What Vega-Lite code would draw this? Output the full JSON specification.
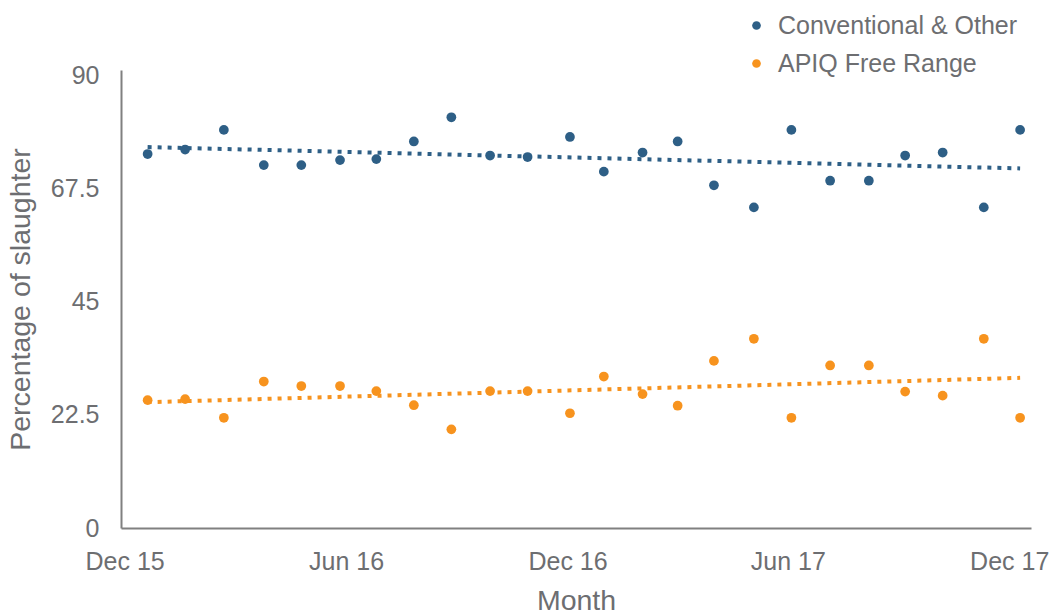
{
  "$schema": "https://vega.github.io/schema/vega-lite/v6.json",
  "width": 910,
  "height": 458,
  "autosize": {"type": "none"},
  "padding": {"left": 121, "top": 70, "right": 19, "bottom": 86},
  "background": "white",
  "config": {
    "view": {"stroke": null},
    "font": "Liberation Sans"
  },
  "data": {
    "format": {"parse": {"date": "date"}},
    "values": [
      {"date": "2015-12-20", "series": "Conventional & Other", "value": 74.3},
      {"date": "2016-01-20", "series": "Conventional & Other", "value": 75.2},
      {"date": "2016-02-21", "series": "Conventional & Other", "value": 79.1},
      {"date": "2016-03-25", "series": "Conventional & Other", "value": 72.1},
      {"date": "2016-04-25", "series": "Conventional & Other", "value": 72.1},
      {"date": "2016-05-27", "series": "Conventional & Other", "value": 73.1},
      {"date": "2016-06-26", "series": "Conventional & Other", "value": 73.3},
      {"date": "2016-07-27", "series": "Conventional & Other", "value": 76.8},
      {"date": "2016-08-27", "series": "Conventional & Other", "value": 81.6},
      {"date": "2016-09-28", "series": "Conventional & Other", "value": 74.0},
      {"date": "2016-10-29", "series": "Conventional & Other", "value": 73.7},
      {"date": "2016-12-03", "series": "Conventional & Other", "value": 77.7},
      {"date": "2016-12-31", "series": "Conventional & Other", "value": 70.8},
      {"date": "2017-02-01", "series": "Conventional & Other", "value": 74.6},
      {"date": "2017-03-02", "series": "Conventional & Other", "value": 76.8},
      {"date": "2017-04-01", "series": "Conventional & Other", "value": 68.1},
      {"date": "2017-05-04", "series": "Conventional & Other", "value": 63.7},
      {"date": "2017-06-04", "series": "Conventional & Other", "value": 79.1},
      {"date": "2017-07-06", "series": "Conventional & Other", "value": 69.0},
      {"date": "2017-08-07", "series": "Conventional & Other", "value": 69.0},
      {"date": "2017-09-06", "series": "Conventional & Other", "value": 74.0},
      {"date": "2017-10-07", "series": "Conventional & Other", "value": 74.6},
      {"date": "2017-11-10", "series": "Conventional & Other", "value": 63.7},
      {"date": "2017-12-10", "series": "Conventional & Other", "value": 79.1},
      {"date": "2015-12-20", "series": "APIQ Free Range", "value": 25.4},
      {"date": "2016-01-20", "series": "APIQ Free Range", "value": 25.6},
      {"date": "2016-02-21", "series": "APIQ Free Range", "value": 21.9},
      {"date": "2016-03-25", "series": "APIQ Free Range", "value": 29.1},
      {"date": "2016-04-25", "series": "APIQ Free Range", "value": 28.2},
      {"date": "2016-05-27", "series": "APIQ Free Range", "value": 28.2},
      {"date": "2016-06-26", "series": "APIQ Free Range", "value": 27.2},
      {"date": "2016-07-27", "series": "APIQ Free Range", "value": 24.4},
      {"date": "2016-08-27", "series": "APIQ Free Range", "value": 19.6},
      {"date": "2016-09-28", "series": "APIQ Free Range", "value": 27.2},
      {"date": "2016-10-29", "series": "APIQ Free Range", "value": 27.2},
      {"date": "2016-12-03", "series": "APIQ Free Range", "value": 22.8},
      {"date": "2016-12-31", "series": "APIQ Free Range", "value": 30.1},
      {"date": "2017-02-01", "series": "APIQ Free Range", "value": 26.6},
      {"date": "2017-03-02", "series": "APIQ Free Range", "value": 24.3},
      {"date": "2017-04-01", "series": "APIQ Free Range", "value": 33.2},
      {"date": "2017-05-04", "series": "APIQ Free Range", "value": 37.6},
      {"date": "2017-06-04", "series": "APIQ Free Range", "value": 21.9},
      {"date": "2017-07-06", "series": "APIQ Free Range", "value": 32.3},
      {"date": "2017-08-07", "series": "APIQ Free Range", "value": 32.3},
      {"date": "2017-09-06", "series": "APIQ Free Range", "value": 27.1},
      {"date": "2017-10-07", "series": "APIQ Free Range", "value": 26.3},
      {"date": "2017-11-10", "series": "APIQ Free Range", "value": 37.6},
      {"date": "2017-12-10", "series": "APIQ Free Range", "value": 21.9}
    ]
  },
  "encoding": {
    "x": {
      "field": "date",
      "type": "temporal",
      "title": "Month",
      "scale": {
        "type": "utc",
        "domain": [
          {"year": 2015, "month": 11, "date": 28, "utc": true},
          {"year": 2017, "month": 12, "date": 19, "utc": true}
        ]
      },
      "axis": {
        "values": [
          {"year": 2015, "month": 12, "date": 1, "utc": true},
          {"year": 2016, "month": 6, "date": 1, "utc": true},
          {"year": 2016, "month": 12, "date": 1, "utc": true},
          {"year": 2017, "month": 6, "date": 1, "utc": true},
          {"year": 2017, "month": 12, "date": 1, "utc": true}
        ],
        "format": "%b %y",
        "labelFlush": false,
        "labelOverlap": false,
        "grid": false,
        "ticks": false,
        "domainColor": "#808080",
        "domainWidth": 2,
        "labelFontSize": 25,
        "labelColor": "#6d6e71",
        "labelPadding": 21,
        "titleFontSize": 28.5,
        "titleFontWeight": "normal",
        "titleColor": "#6d6e71",
        "titlePadding": 12
      }
    },
    "y": {
      "field": "value",
      "type": "quantitative",
      "title": "Percentage of slaughter",
      "scale": {"domain": [0, 91], "nice": false, "zero": true},
      "axis": {
        "values": [0, 22.5, 45, 67.5, 90],
        "labelExpr": "format(datum.value, '.1~f')",
        "grid": false,
        "ticks": false,
        "domainColor": "#808080",
        "domainWidth": 2,
        "labelFontSize": 25,
        "labelColor": "#6d6e71",
        "labelPadding": 22,
        "titleFontSize": 28.5,
        "titleFontWeight": "normal",
        "titleColor": "#6d6e71",
        "titlePadding": 15
      }
    },
    "color": {
      "field": "series",
      "type": "nominal",
      "sort": ["Conventional & Other", "APIQ Free Range"],
      "scale": {
        "domain": ["Conventional & Other", "APIQ Free Range"],
        "range": ["#2e5f86", "#f7931e"]
      },
      "legend": {
        "title": null,
        "orient": "none",
        "legendX": 623,
        "legendY": -57,
        "symbolType": "circle",
        "symbolSize": 75,
        "symbolStrokeWidth": 0,
        "symbolOpacity": 1,
        "labelFontSize": 25,
        "labelColor": "#6d6e71",
        "labelOffset": 9,
        "labelLimit": 400,
        "rowPadding": 12
      }
    }
  },
  "layer": [
    {
      "transform": [
        {"regression": "value", "on": "date", "groupby": ["series"]}
      ],
      "mark": {
        "type": "line",
        "strokeDash": [4, 6],
        "strokeWidth": 4,
        "strokeCap": "butt"
      }
    },
    {
      "mark": {"type": "circle", "size": 95, "opacity": 1}
    }
  ]
}
